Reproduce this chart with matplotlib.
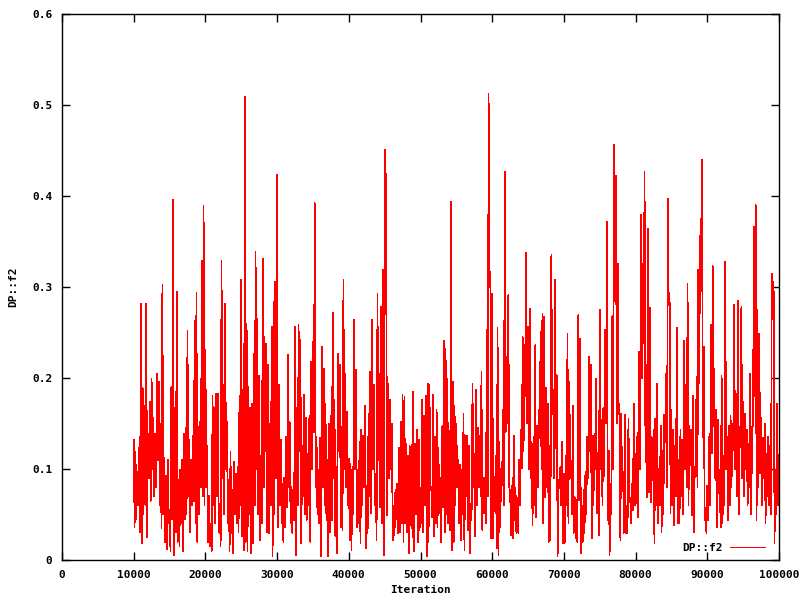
import numpy as np
import matplotlib
matplotlib.use("Agg")
import matplotlib.pyplot as plt

# DP::f2 trace: each 10000-iteration block is given as
# the stroke tops (hi) and stroke bottoms (lo); the trace alternates hi, lo, hi ...
f2_hi_10k = [.132,.119,.097,.123,.282,.189,.170,.282,.139,.174,.199,.156,.139,.205,.196,.150,.302,.112,.093,.110,
             .055,.190,.396,.152,.295,.088,.099,.110,.139,.145,.252,.132,.110,.137,.263,.294,.146,.152,.329,.389]
f2_lo_10k = [.036,.045,.060,.030,.018,.050,.060,.025,.090,.065,.100,.070,.080,.110,.060,.035,.050,.020,.012,.040,
             .010,.045,.005,.030,.020,.015,.040,.010,.045,.050,.070,.030,.060,.065,.040,.020,.050,.080,.070,.060]
f2_hi_20k = [.231,.126,.071,.040,.180,.167,.183,.183,.060,.329,.192,.282,.152,.088,.119,.077,.108,.095,.102,.180,
             .308,.187,.509,.260,.190,.167,.172,.227,.339,.265,.202,.114,.331,.245,.238,.214,.150,.256,.284,.306]
f2_lo_20k = [.080,.020,.015,.010,.060,.040,.070,.030,.015,.090,.050,.100,.040,.010,.030,.008,.050,.040,.030,.060,
             .026,.011,.020,.010,.050,.008,.018,.060,.100,.050,.022,.040,.080,.120,.030,.029,.060,.004,.050,.090]
f2_hi_30k = [.423,.192,.132,.084,.090,.135,.225,.152,.080,.077,.256,.167,.258,.242,.125,.181,.156,.117,.158,.218,
             .240,.392,.135,.099,.134,.234,.210,.172,.110,.150,.158,.272,.176,.102,.227,.214,.146,.308,.205,.163]
f2_lo_30k = [.036,.060,.040,.020,.036,.058,.080,.040,.030,.044,.005,.060,.120,.018,.070,.050,.044,.060,.020,.100,
             .140,.080,.050,.040,.004,.080,.060,.044,.004,.030,.044,.090,.026,.008,.120,.036,.033,.100,.080,.060]
f2_hi_40k = [.111,.106,.102,.264,.209,.099,.130,.143,.137,.170,.082,.161,.207,.264,.192,.095,.293,.205,.278,.319,
             .451,.253,.194,.176,.150,.060,.077,.084,.123,.152,.181,.179,.128,.115,.125,.127,.185,.128,.143,.132]
f2_lo_40k = [.022,.011,.050,.100,.036,.040,.018,.060,.080,.013,.030,.070,.051,.100,.060,.022,.110,.058,.040,.005,
             .449,.049,.090,.100,.022,.027,.045,.029,.030,.040,.020,.040,.030,.008,.038,.025,.010,.050,.020,.033]
f2_hi_50k = [.079,.176,.158,.180,.194,.192,.080,.181,.135,.165,.123,.090,.146,.241,.232,.199,.100,.394,.196,.170,
             .150,.110,.105,.099,.161,.137,.137,.125,.062,.194,.117,.187,.145,.137,.207,.090,.090,.253,.512,.317]
f2_lo_50k = [.040,.030,.060,.004,.020,.080,.047,.026,.040,.036,.051,.020,.058,.030,.050,.040,.033,.011,.020,.060,
             .080,.040,.022,.050,.011,.070,.033,.007,.044,.080,.026,.060,.080,.070,.033,.051,.040,.070,.300,.024]
f2_hi_60k = [.293,.071,.114,.255,.130,.100,.165,.427,.223,.291,.075,.082,.137,.079,.068,.110,.143,.245,.236,.338,
             .256,.276,.130,.135,.236,.148,.165,.251,.271,.267,.189,.172,.125,.335,.187,.308,.203,.088,.102,.130]
f2_lo_60k = [.024,.068,.013,.005,.036,.082,.060,.140,.150,.080,.027,.024,.044,.029,.030,.060,.101,.120,.180,.150,
             .100,.090,.038,.060,.047,.080,.134,.100,.040,.069,.080,.020,.022,.160,.090,.123,.004,.079,.060,.019]
f2_hi_70k = [.095,.114,.249,.196,.108,.170,.069,.066,.269,.243,.042,.077,.097,.135,.223,.215,.137,.139,.199,.108,
             .275,.154,.167,.253,.372,.120,.084,.268,.456,.422,.326,.172,.161,.097,.160,.060,.155,.067,.084,.172]
f2_lo_70k = [.019,.060,.040,.110,.050,.030,.024,.020,.066,.008,.020,.030,.050,.090,.120,.024,.060,.100,.051,.027,
             .100,.060,.092,.150,.044,.005,.050,.100,.300,.150,.160,.022,.080,.030,.029,.030,.070,.040,.055,.060]
f2_hi_80k = [.117,.140,.229,.379,.326,.427,.214,.364,.277,.135,.143,.155,.194,.086,.148,.120,.160,.205,.397,.283,
             .165,.143,.125,.255,.110,.143,.132,.241,.192,.303,.148,.143,.180,.102,.201,.319,.356,.440,.234,.057]
f2_lo_80k = [.062,.047,.100,.200,.238,.108,.069,.074,.064,.088,.018,.060,.040,.060,.030,.050,.130,.080,.280,.051,
             .060,.038,.070,.040,.040,.070,.050,.100,.080,.060,.104,.049,.030,.091,.080,.194,.339,.135,.044,.030]
f2_hi_90k = [.082,.135,.258,.323,.135,.165,.154,.073,.202,.115,.328,.135,.148,.158,.150,.280,.146,.285,.121,.278,
             .174,.161,.143,.128,.205,.141,.366,.390,.275,.249,.156,.134,.150,.117,.135,.125,.315,.306,.099,.172,
             .114]
f2_lo_90k = [.044,.060,.117,.218,.088,.036,.073,.036,.040,.060,.100,.044,.060,.080,.121,.100,.070,.050,.150,.090,
             .070,.100,.060,.080,.050,.150,.180,.044,.080,.095,.060,.090,.040,.070,.060,.050,.290,.019,.050,.060]

start_iter = 10000
iter_step = 125
x_ticks = [0, 10000, 20000, 30000, 40000, 50000, 60000, 70000, 80000, 90000, 100000]
y_ticks = [0, 0.1, 0.2, 0.3, 0.4, 0.5, 0.6]
y_tick_labels = ["0", "0.1", "0.2", "0.3", "0.4", "0.5", "0.6"]

blocks = [(f2_hi_10k, f2_lo_10k), (f2_hi_20k, f2_lo_20k), (f2_hi_30k, f2_lo_30k),
          (f2_hi_40k, f2_lo_40k), (f2_hi_50k, f2_lo_50k), (f2_hi_60k, f2_lo_60k),
          (f2_hi_70k, f2_lo_70k), (f2_hi_80k, f2_lo_80k), (f2_hi_90k, f2_lo_90k)]
parts = []
for hi, lo in blocks:
    seg = np.empty(len(hi) + len(lo))
    seg[0::2] = hi
    seg[1::2] = lo
    parts.append(seg)
values = np.concatenate(parts)
iterations = start_iter + iter_step * np.arange(len(values))

font = {"family": "DejaVu Sans Mono", "weight": "bold", "size": 8}
plt.rcParams["font.family"] = "DejaVu Sans Mono"
plt.rcParams["font.weight"] = "bold"
plt.rcParams["font.size"] = 8

fig = plt.figure(figsize=(8, 6), dpi=100)
ax = fig.add_axes([62/800, 40/600, 717/800, 546/600])
ax.plot(iterations, values, color="#ff0000", lw=0.5, antialiased=False,
        label="DP::f2")

ax.set_xlim(0, 100000)
ax.set_ylim(0, 0.6)
ax.set_xticks(x_ticks)
ax.set_xticklabels([str(t) for t in x_ticks])
ax.set_yticks(y_ticks)
ax.set_yticklabels(y_tick_labels)
ax.tick_params(direction="in", length=6, width=1, top=True, right=True,
               pad=7, labelsize=8, colors="black")
for s in ax.spines.values():
    s.set_linewidth(1)
    s.set_color("black")

ax.set_xlabel("Iteration", fontdict=font, labelpad=4)
ax.set_ylabel("DP::f2", fontdict=font, labelpad=10)

leg = ax.legend(loc="lower right", bbox_to_anchor=(0.995, -0.006),
                frameon=False, markerfirst=False, handlelength=3.2,
                handletextpad=0.6, prop=font)
for h in leg.get_lines():
    h.set_linewidth(0.5)
    h.set_antialiased(False)

fig.savefig("out.png", dpi=100)
